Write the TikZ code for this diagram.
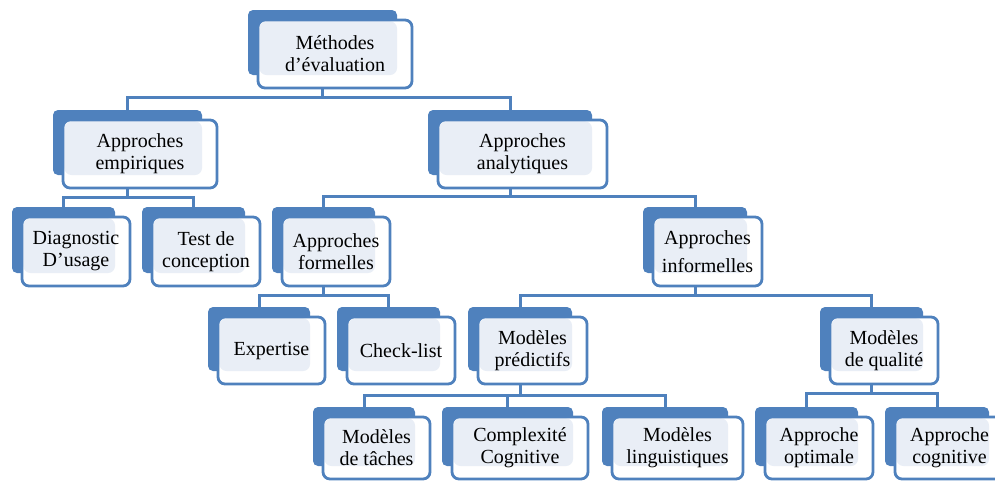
\documentclass[tikz,border=0pt]{standalone}
\usepackage{fontspec}
\setmainfont{Liberation Serif}
\usetikzlibrary{backgrounds}

\definecolor{evblue}{RGB}{79,129,189}
\definecolor{evlight}{RGB}{233,238,246}

\tikzset{
  backbox/.style={fill=evblue, rounded corners=5pt, inner sep=0pt},
  frontbox/.style={draw=evblue, line width=2.8pt, fill=white, rounded corners=7pt,
    inner sep=0pt, align=center, text=black, font=\fontsize{20}{22}\selectfont,
    path picture={\fill[evlight] ([shift={(1.4pt,-1.4pt)}]path picture bounding box.north west)
      rectangle ([shift={(-15pt,13pt)}]path picture bounding box.south east);}},
  conn/.style={draw=evblue, line width=3pt}
}

\begin{document}
\begin{tikzpicture}[x=1pt, y=-1pt]
  \useasboundingbox (0,0) rectangle (995,480);
  % boxes: back shape, then front shape with the label
  \foreach \n/\x/\y/\w/\h/\t in {
      root/322.5/42.5/149/65/{Méthodes\\d’évaluation},
      empir/127.5/142.5/149/65/{Approches\\empiriques},
      analyt/510/142.5/164/65/{Approches\\analytiques},
      diag/63.5/240/103/66/{Diagnostic\\D’usage},
      conc/193.5/240/103/66/{Test de\\conception},
      formel/323.5/240/103/66/{Approches\\formelles},
      inform/695/240/104/66/{Approches\\[6pt]informelles},
      expert/259/339/102/64/{Expertise},
      check/388.5/339/103/64/{Check-list},
      predic/520/339/104/64/{Modèles\\prédictifs},
      qualite/871.5/339/103/64/{Modèles\\de qualité},
      taches/364/436.5/102/59/{Modèles\\de tâches},
      complex/507.5/436.5/131/59/{Complexité\\Cognitive},
      lingu/665/436.5/126/59/{Modèles\\linguistiques},
      optim/806.5/436.5/103/59/{Approche\\optimale},
      cognit/937/436.5/104/59/{Approche\\cognitive}} {
    \node[backbox, minimum width=\w pt, minimum height=\h pt] (\n) at (\x,\y) {};
    \node[frontbox, minimum width=\w pt+5pt, minimum height=\h pt+3pt] (\n-t)
      at ([shift={(12.5pt,-11.5pt)}]\n.center) {\t};
  }
  % bus points
  \coordinate (b0) at (322.5,97);
  \coordinate (b1) at (127.5,197);
  \coordinate (b2) at (510,196);
  \coordinate (b3) at (323.5,295);
  \coordinate (b4) at (695,295);
  \coordinate (b5) at (520,395);
  \coordinate (b6) at (871.5,393);
  % connectors
  \begin{scope}[on background layer]
    \draw[conn] (root.south) -- (b0) -| (empir.north);
    \draw[conn] (b0) -| (analyt.north);
    \draw[conn] (empir.south) -- (b1) -| (diag.north);
    \draw[conn] (b1) -| (conc.north);
    \draw[conn] (analyt.south) -- (b2) -| (formel.north);
    \draw[conn] (b2) -| (inform.north);
    \draw[conn] (formel.south) -- (b3) -| (expert.north);
    \draw[conn] (b3) -| (check.north);
    \draw[conn] (inform.south) -- (b4) -| (predic.north);
    \draw[conn] (b4) -| (qualite.north);
    \draw[conn] (predic.south) -- (b5) -| (taches.north);
    \draw[conn] (b5) -| (complex.north);
    \draw[conn] (b5) -| (lingu.north);
    \draw[conn] (qualite.south) -- (b6) -| (optim.north);
    \draw[conn] (b6) -| (cognit.north);
  \end{scope}
\end{tikzpicture}
\end{document}
